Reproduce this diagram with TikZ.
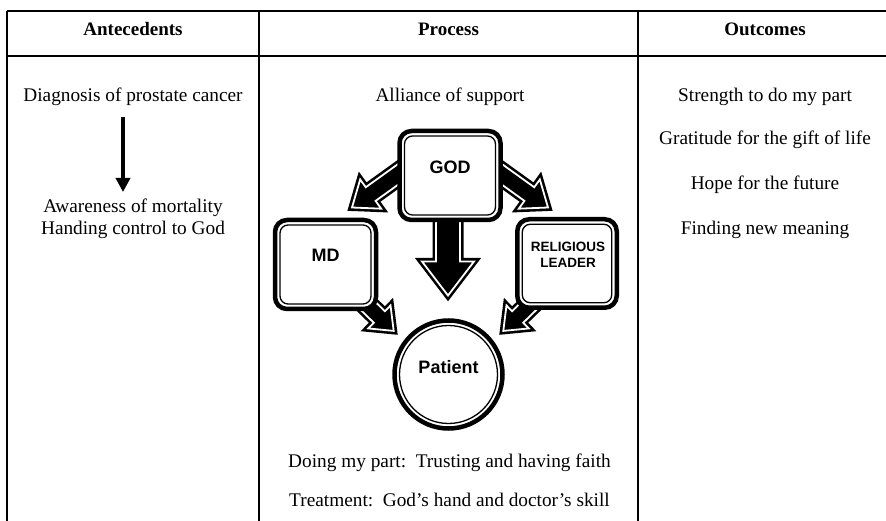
\documentclass[tikz,border=0pt]{standalone}
\usepackage{fontspec}
\setmainfont{Liberation Serif}
\newfontfamily\hv{Liberation Sans}
\usetikzlibrary{calc,arrows.meta}
\newcommand\blockarr[5]{%
  \filldraw[blockarrow]
    ($(#1)!#3!90:(#2)$) --
    ($(#2)!#5!(#1)!#3!90:(#2)$) --
    ($(#2)!#5!(#1)!#4!90:(#2)$) --
    (#2) --
    ($(#2)!#5!(#1)!#4!-90:(#2)$) --
    ($(#2)!#5!(#1)!#3!-90:(#2)$) --
    ($(#1)!#3!-90:(#2)$) -- cycle;}
\newcommand\inframe[1]{\draw[line width=1.3pt, rounded corners=8pt]
  ([shift={(5,5)}]#1.north west) rectangle ([shift={(-5,-5)}]#1.south east);}
\tikzset{
  rule/.style={line width=1.2pt},
  head/.style={font=\fontsize{19}{22}\selectfont\bfseries},
  txt/.style={font=\fontsize{19.3}{22}\selectfont, align=center},
  rbox/.style={draw, fill=white, line width=4.5pt, rounded corners=12pt,
    minimum width=101pt, minimum height=89pt, inner sep=0pt, outer sep=0pt},
  boxtext/.style={font=\hv\bfseries\fontsize{18}{20}\selectfont, align=center},
  smalltext/.style={font=\hv\bfseries\fontsize{13.5}{16}\selectfont, align=center},
  blockarrow/.style={fill=black, draw=black, line width=2.6pt, double=white,
    double distance=1.8pt, line join=miter, miter limit=10},
}
\begin{document}
\begin{tikzpicture}[x=1pt, y=-1pt]
\useasboundingbox (0,0) rectangle (886,521);
% table
\draw[rule] (7,11) -- (886,11);
\draw[rule] (7,56) -- (886,56);
\draw[rule] (7,11) -- (7,521);
\draw[rule] (259,11) -- (259,521);
\draw[rule] (638,11) -- (638,521);
\node[head] (h1) at (133,29) {Antecedents};
\node[head] (h2) at (448.5,29) {Process};
\node[head] (h3) at (765,29) {Outcomes};
% antecedents
\node[txt] (diag) at (133,97) {Diagnosis of prostate cancer};
\node[txt] (aware) at (133,219) {Awareness of mortality\\Handing control to God};
\coordinate (a1) at (123,117);
\coordinate (a2) at (123,192);
\draw[line width=4.5pt, -{Triangle[width=14pt,length=14pt]}] (a1) -- (a2);
% outcomes
\node[txt] (o1) at (765,97) {Strength to do my part};
\node[txt] (o2) at (765,140) {Gratitude for the gift of life};
\node[txt] (o3) at (765,185) {Hope for the future};
\node[txt] (o4) at (765,230) {Finding new meaning};
% process
\node[txt] (alliance) at (450,97) {Alliance of support};
\node[txt] (doing) at (449.5,463) {Doing my part:\ \ Trusting and having faith};
\node[txt] (treat) at (449.5,500) {Treatment:\ \ God’s hand and doctor’s skill};
% arrow coordinates
\coordinate (s1) at (409,166.5); \coordinate (t1) at (352,207.5);
\coordinate (s2) at (491,166.5); \coordinate (t2) at (548,207.5);
\coordinate (s3) at (448,200);   \coordinate (t3) at (448,295.5);
\coordinate (s4) at (365,303);   \coordinate (t4) at (393.7,330.9);
\coordinate (s5) at (532,303);   \coordinate (t5) at (503.3,330.9);
\blockarr{s1}{t1}{8.4pt}{18pt}{23pt}
\blockarr{s2}{t2}{8.4pt}{18pt}{23pt}
\blockarr{s3}{t3}{12pt}{26pt}{34pt}
\blockarr{s4}{t4}{8pt}{16pt}{20pt}
\blockarr{s5}{t5}{8pt}{16pt}{20pt}
% boxes
\node[rbox] (god) at (450,175.5) {};
\inframe{god}
\node[boxtext] (godt) at (450,167) {GOD};
\node[rbox] (md) at (325.5,264.5) {};
\inframe{md}
\node[boxtext] (mdt) at (325.5,255) {MD};
\node[rbox, minimum width=99.5pt, minimum height=88.5pt] (rl) at (567,263.5) {};
\inframe{rl}
\node[smalltext] (rlt) at (568,255) {RELIGIOUS\\LEADER};
\node[circle, draw, fill=white, line width=4.5pt, minimum size=108pt,
  inner sep=0pt, outer sep=0pt] (patient) at (448.5,374.5) {};
\draw[line width=1.3pt] (patient.center) circle[radius=49pt];
\node[boxtext] (patt) at (448.5,367) {Patient};
\end{tikzpicture}
\end{document}
